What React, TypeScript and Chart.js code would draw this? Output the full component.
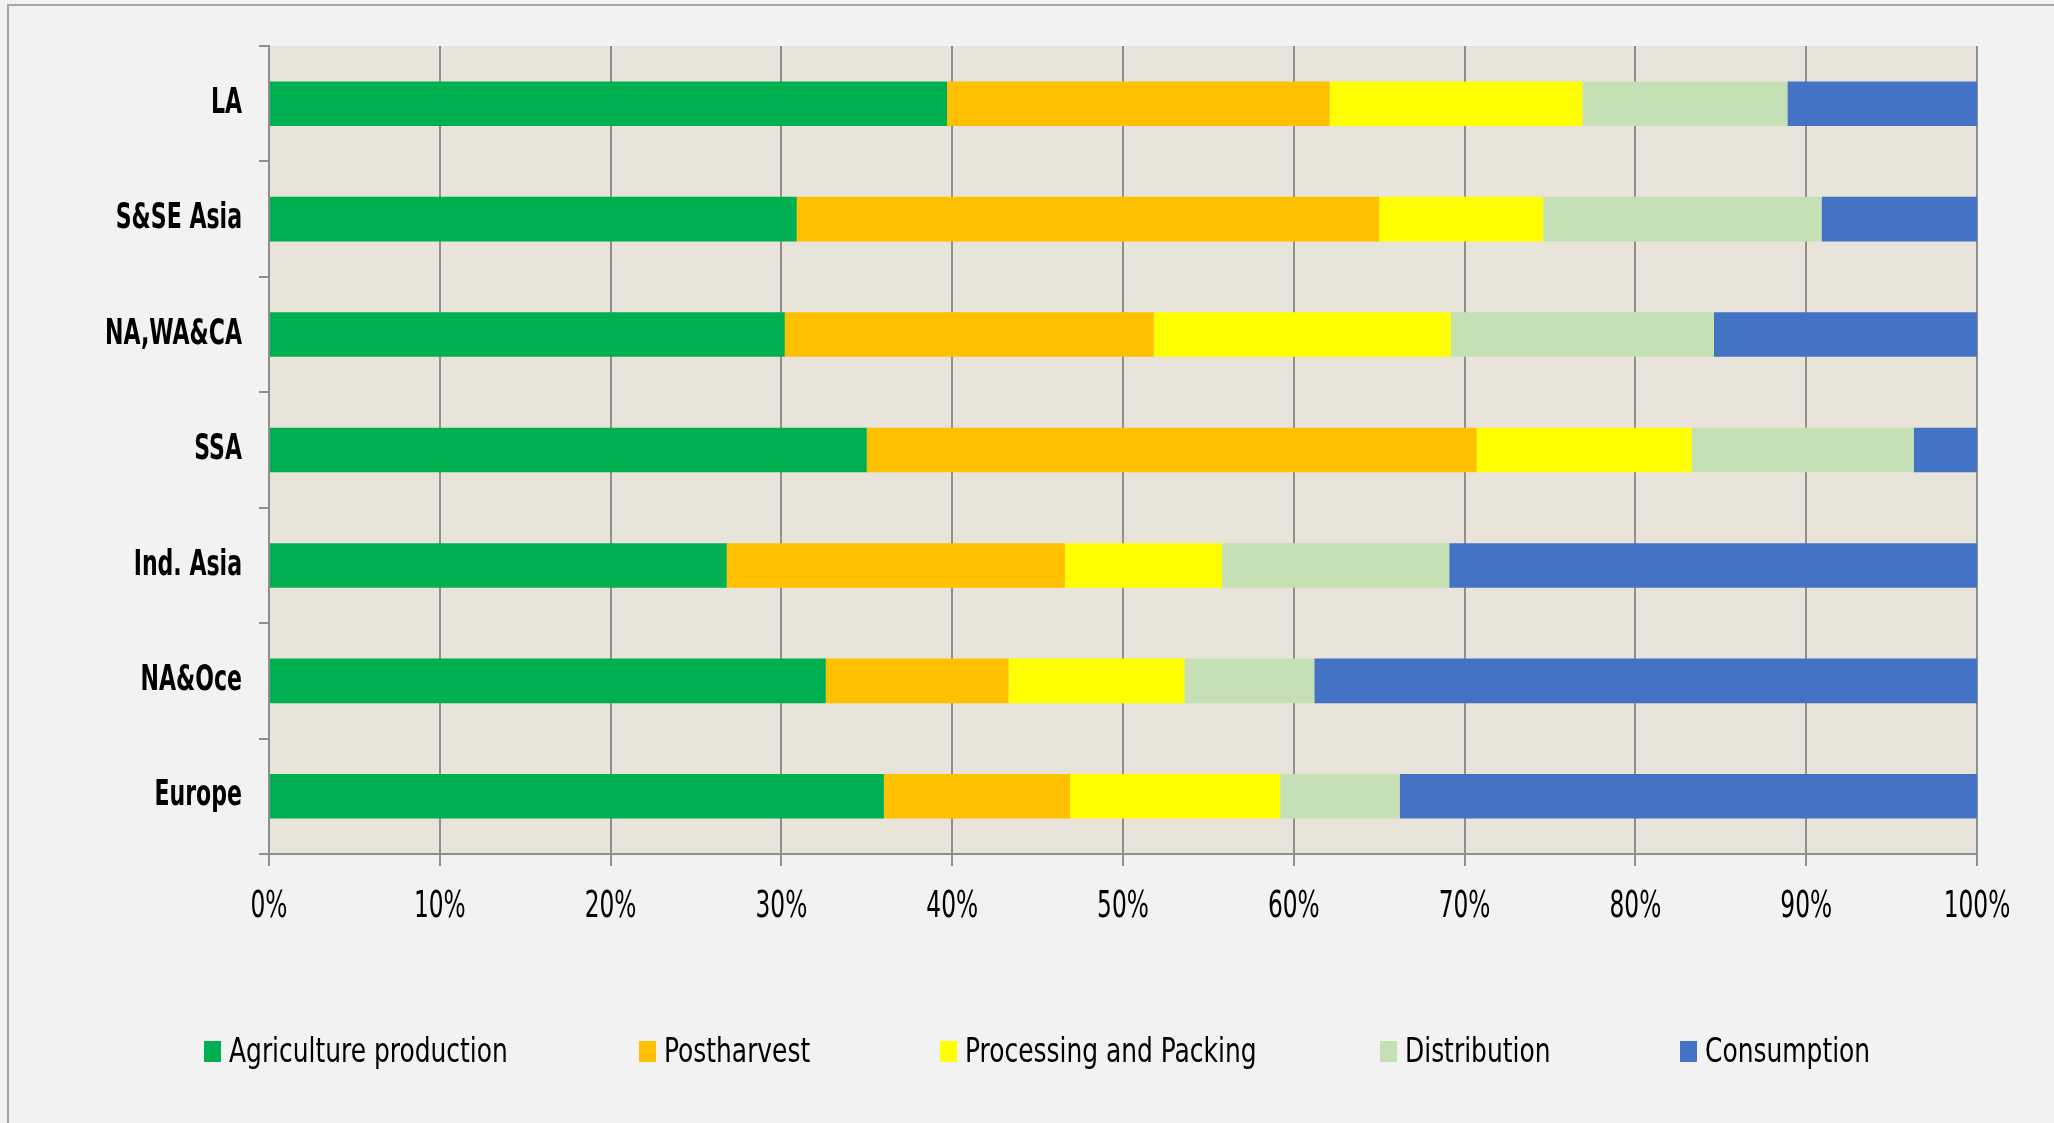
import React, { useEffect, useRef } from "react";
import { Chart, registerables } from "chart.js";

Chart.register(...registerables);

const categories = ["LA", "S&SE Asia", "NA,WA&CA", "SSA", "Ind. Asia", "NA&Oce", "Europe"];
const seriesNames = ["Agriculture production", "Postharvest", "Processing and Packing", "Distribution", "Consumption"];
const agriculture = [39.7, 30.9, 30.2, 35.0, 26.8, 32.6, 36.0];
const postharvest = [22.4, 34.1, 21.6, 35.7, 19.8, 10.7, 10.9];
const processing = [14.8, 9.6, 17.4, 12.6, 9.2, 10.3, 12.3];
const distribution = [12.0, 16.3, 15.4, 13.0, 13.3, 7.6, 7.0];
const consumption = [11.1, 9.1, 15.4, 3.7, 30.9, 38.8, 33.8];
const xTicks = [0, 10, 20, 30, 40, 50, 60, 70, 80, 90, 100];
const colors = ["#00B050", "#FFC000", "#FFFF00", "#C5E0B4", "#4472C4"];

const W = 2054;
const H = 1123;
const FONT = "'DejaVu Sans Condensed', 'Liberation Sans', sans-serif";
const GRID = "#8f8f8f";
const PLOT_BG = "#E8E4DA";
const LEGEND_X = [204, 639, 940, 1380, 1680];

const plotBg = {
  id: "plotBg",
  beforeDraw(chart: any) {
    const { ctx, chartArea } = chart;
    ctx.save();
    ctx.fillStyle = PLOT_BG;
    ctx.fillRect(chartArea.left, chartArea.top, chartArea.right - chartArea.left, chartArea.bottom - chartArea.top);
    ctx.restore();
  },
};

function narrowText(ctx: any, text: string, x: number, y: number, font: string, sx: number, align: string) {
  ctx.save();
  ctx.translate(x, y);
  ctx.scale(sx, 1);
  ctx.font = font;
  ctx.textBaseline = "middle";
  ctx.textAlign = align;
  ctx.fillStyle = "#000";
  ctx.fillText(text, 0, 0);
  ctx.restore();
}

const axisLabels = {
  id: "axisLabels",
  afterDraw(chart: any) {
    const { ctx } = chart;
    const ys = chart.scales.y;
    const xs = chart.scales.x;
    ys.ticks.forEach((t: any, i: number) => {
      const y = ys.getPixelForTick(i);
      const label = ys.getLabelForValue(t.value);
      narrowText(ctx, label, ys.right - 27, y, `bold 35px ${FONT}`, 0.7, "right");
    });
    xs.ticks.forEach((t: any, i: number) => {
      const x = xs.getPixelForTick(i);
      narrowText(ctx, `${t.value}%`, x, 907, `37px ${FONT}`, 0.7, "center");
    });
  },
};

const customLegend = {
  id: "customLegend",
  afterDraw(chart: any) {
    const { ctx } = chart;
    chart.data.datasets.forEach((ds: any, i: number) => {
      const x = LEGEND_X[i];
      ctx.save();
      ctx.fillStyle = ds.backgroundColor;
      ctx.fillRect(x, 1041, 17, 21);
      ctx.restore();
      narrowText(ctx, ds.label, x + 25, 1053, `34px ${FONT}`, 0.815, "left");
    });
  },
};

export default function App() {
  const ref = useRef<HTMLCanvasElement | null>(null);

  useEffect(() => {
    document.body.style.margin = "0";
    const series = [agriculture, postharvest, processing, distribution, consumption];
    const chart = new Chart(ref.current as HTMLCanvasElement, {
      type: "bar",
      data: {
        labels: categories,
        datasets: series.map((d, i) => ({
          label: seriesNames[i],
          data: d,
          backgroundColor: colors[i],
          borderWidth: 0,
          barPercentage: 0.386,
          categoryPercentage: 1,
        })),
      },
      options: {
        indexAxis: "y",
        responsive: false,
        animation: false,
        devicePixelRatio: 1,
        layout: { padding: { left: 0, top: 46, right: 77, bottom: 0 } },
        plugins: {
          legend: { display: false },
          tooltip: { enabled: false },
          title: { display: false },
        },
        scales: {
          x: {
            type: "linear",
            stacked: true,
            min: 0,
            max: 100,
            afterBuildTicks: (s: any) => {
              s.ticks = xTicks.map((v) => ({ value: v }));
            },
            afterFit: (s: any) => {
              s.height = H - 854;
            },
            ticks: { display: false },
            grid: { color: GRID, lineWidth: 2, tickLength: 12, drawTicks: true },
            border: { color: GRID, width: 2 },
          },
          y: {
            stacked: true,
            afterFit: (s: any) => {
              s.width = 269;
            },
            ticks: { display: false },
            grid: { drawOnChartArea: false, drawTicks: true, tickLength: 10, color: GRID, lineWidth: 2, offset: true },
            border: { color: GRID, width: 2 },
          },
        },
      },
      plugins: [plotBg, axisLabels, customLegend],
    });
    return () => chart.destroy();
  }, []);

  return (
    <div style={{ position: "relative", width: W, height: H, background: "#F2F2F2", overflow: "hidden" }}>
      <div
        style={{
          position: "absolute",
          left: 7,
          top: 4,
          width: W,
          height: H,
          borderTop: "2px solid #a6a6a6",
          borderLeft: "2px solid #a6a6a6",
        }}
      />
      <canvas ref={ref} width={W} height={H} style={{ position: "absolute", left: 0, top: 0 }} />
    </div>
  );
}
